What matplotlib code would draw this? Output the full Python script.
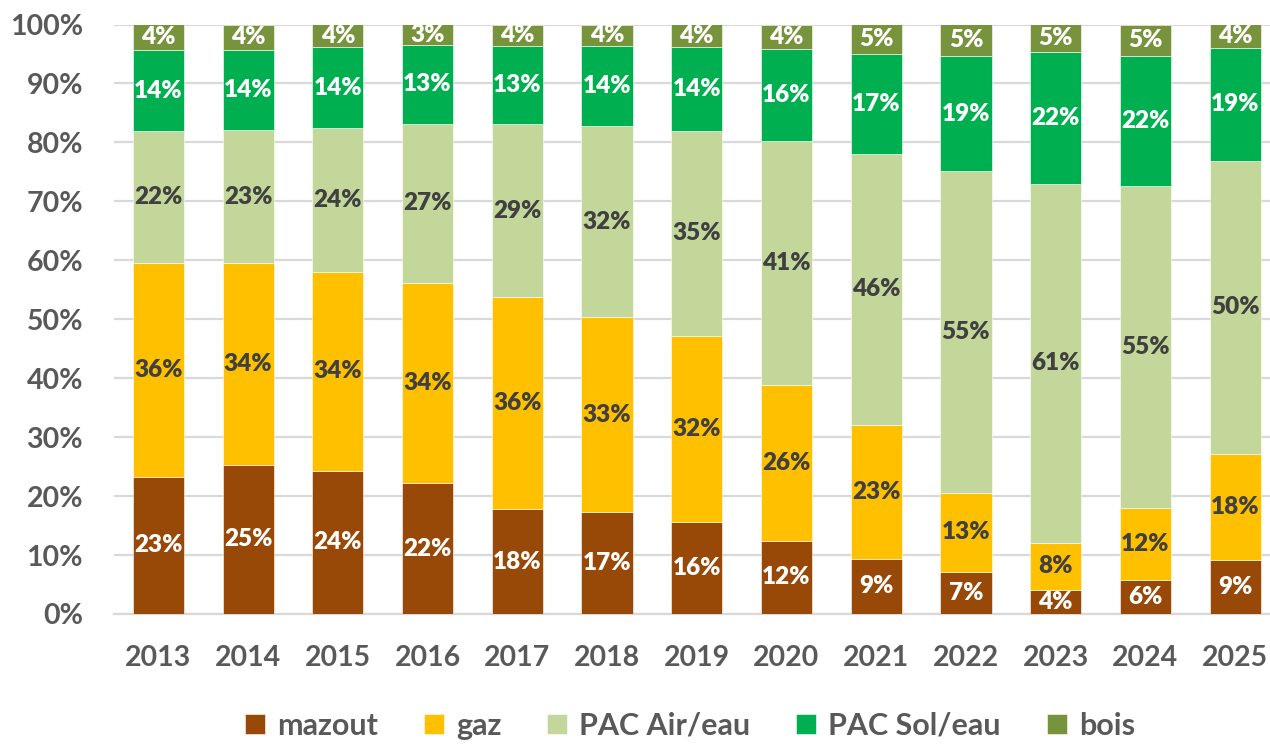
import numpy as np
import matplotlib
matplotlib.use("Agg")
import matplotlib.pyplot as plt
from matplotlib.ticker import FuncFormatter

plt.rcParams['font.family'] = ['Lato', 'DejaVu Sans']
plt.rcParams['font.weight'] = 'bold'

years = ['2013', '2014', '2015', '2016', '2017', '2018', '2019',
         '2020', '2021', '2022', '2023', '2024', '2025']
mazout = [23.3, 25.3, 24.3, 22.2, 17.8, 17.3, 15.6, 12.4, 9.4, 7.2, 4.1, 5.8, 9.1]
gaz = [36.3, 34.2, 33.8, 33.9, 35.9, 33.0, 31.6, 26.4, 22.7, 13.3, 8.0, 12.2, 18.0]
pac_air = [22.4, 22.6, 24.3, 27.1, 29.4, 32.4, 34.8, 41.4, 46.0, 54.7, 60.8, 54.6, 49.8]
pac_sol = [13.6, 13.6, 13.7, 13.4, 13.3, 13.6, 14.2, 15.7, 16.9, 19.4, 22.4, 22.1, 19.1]
bois = [4.4, 4.3, 3.9, 3.4, 3.6, 3.7, 3.8, 4.1, 5.0, 5.4, 4.7, 5.3, 4.0]

series = [
    ('mazout', mazout, '#984807', 'white'),
    ('gaz', gaz, '#FFC000', '#404040'),
    ('PAC Air/eau', pac_air, '#C4D79B', '#404040'),
    ('PAC Sol/eau', pac_sol, '#00B050', 'white'),
    ('bois', bois, '#77933C', 'white'),
]

fig = plt.figure(figsize=(12.7, 7.44), dpi=100)
ax = fig.add_axes([113.5 / 1270, 130 / 744, (1280 - 113.5) / 1270, (719.5 - 130) / 744])

x = np.arange(len(years))
bottom = np.zeros(len(years))
for name, vals, col, tcol in series:
    vals = np.array(vals)
    ax.bar(x, vals, 0.57, bottom=bottom, color=col, label=name,
           edgecolor='white', linewidth=0.4, zorder=3)
    for xi, b, v in zip(x, bottom, vals):
        ax.text(xi, b + v / 2, f"{v:.0f}%", ha='center', va='center',
                color=tcol, fontsize=17.5, fontweight='heavy', zorder=4)
    bottom += vals

ax.set_xlim(-0.5, 12.5)
ax.set_ylim(0, 100)
ax.set_yticks(np.arange(0, 101, 10))
ax.yaxis.set_major_formatter(FuncFormatter(lambda v, p: f"{v:.0f}%"))
ax.set_xticks(x)
ax.set_xticklabels(years)
ax.grid(axis='y', color='#D9D9D9', linewidth=1.6, zorder=0)
for s in ['top', 'right', 'left']:
    ax.spines[s].set_visible(False)
ax.spines['bottom'].set_color('#D9D9D9')
ax.spines['bottom'].set_linewidth(1.6)
ax.tick_params(axis='both', length=0, labelsize=20.5, labelcolor='#595959')
ax.tick_params(axis='y', pad=22)
ax.tick_params(axis='x', pad=22)

fig.legend(loc='center', bbox_to_anchor=(690 / 1270, 1 - 726 / 744), ncol=5,
           frameon=False, fontsize=22, labelcolor='#595959',
           handlelength=0.65, handleheight=0.65, handletextpad=0.4, columnspacing=1.5)

fig.savefig('out.png', dpi=100)
